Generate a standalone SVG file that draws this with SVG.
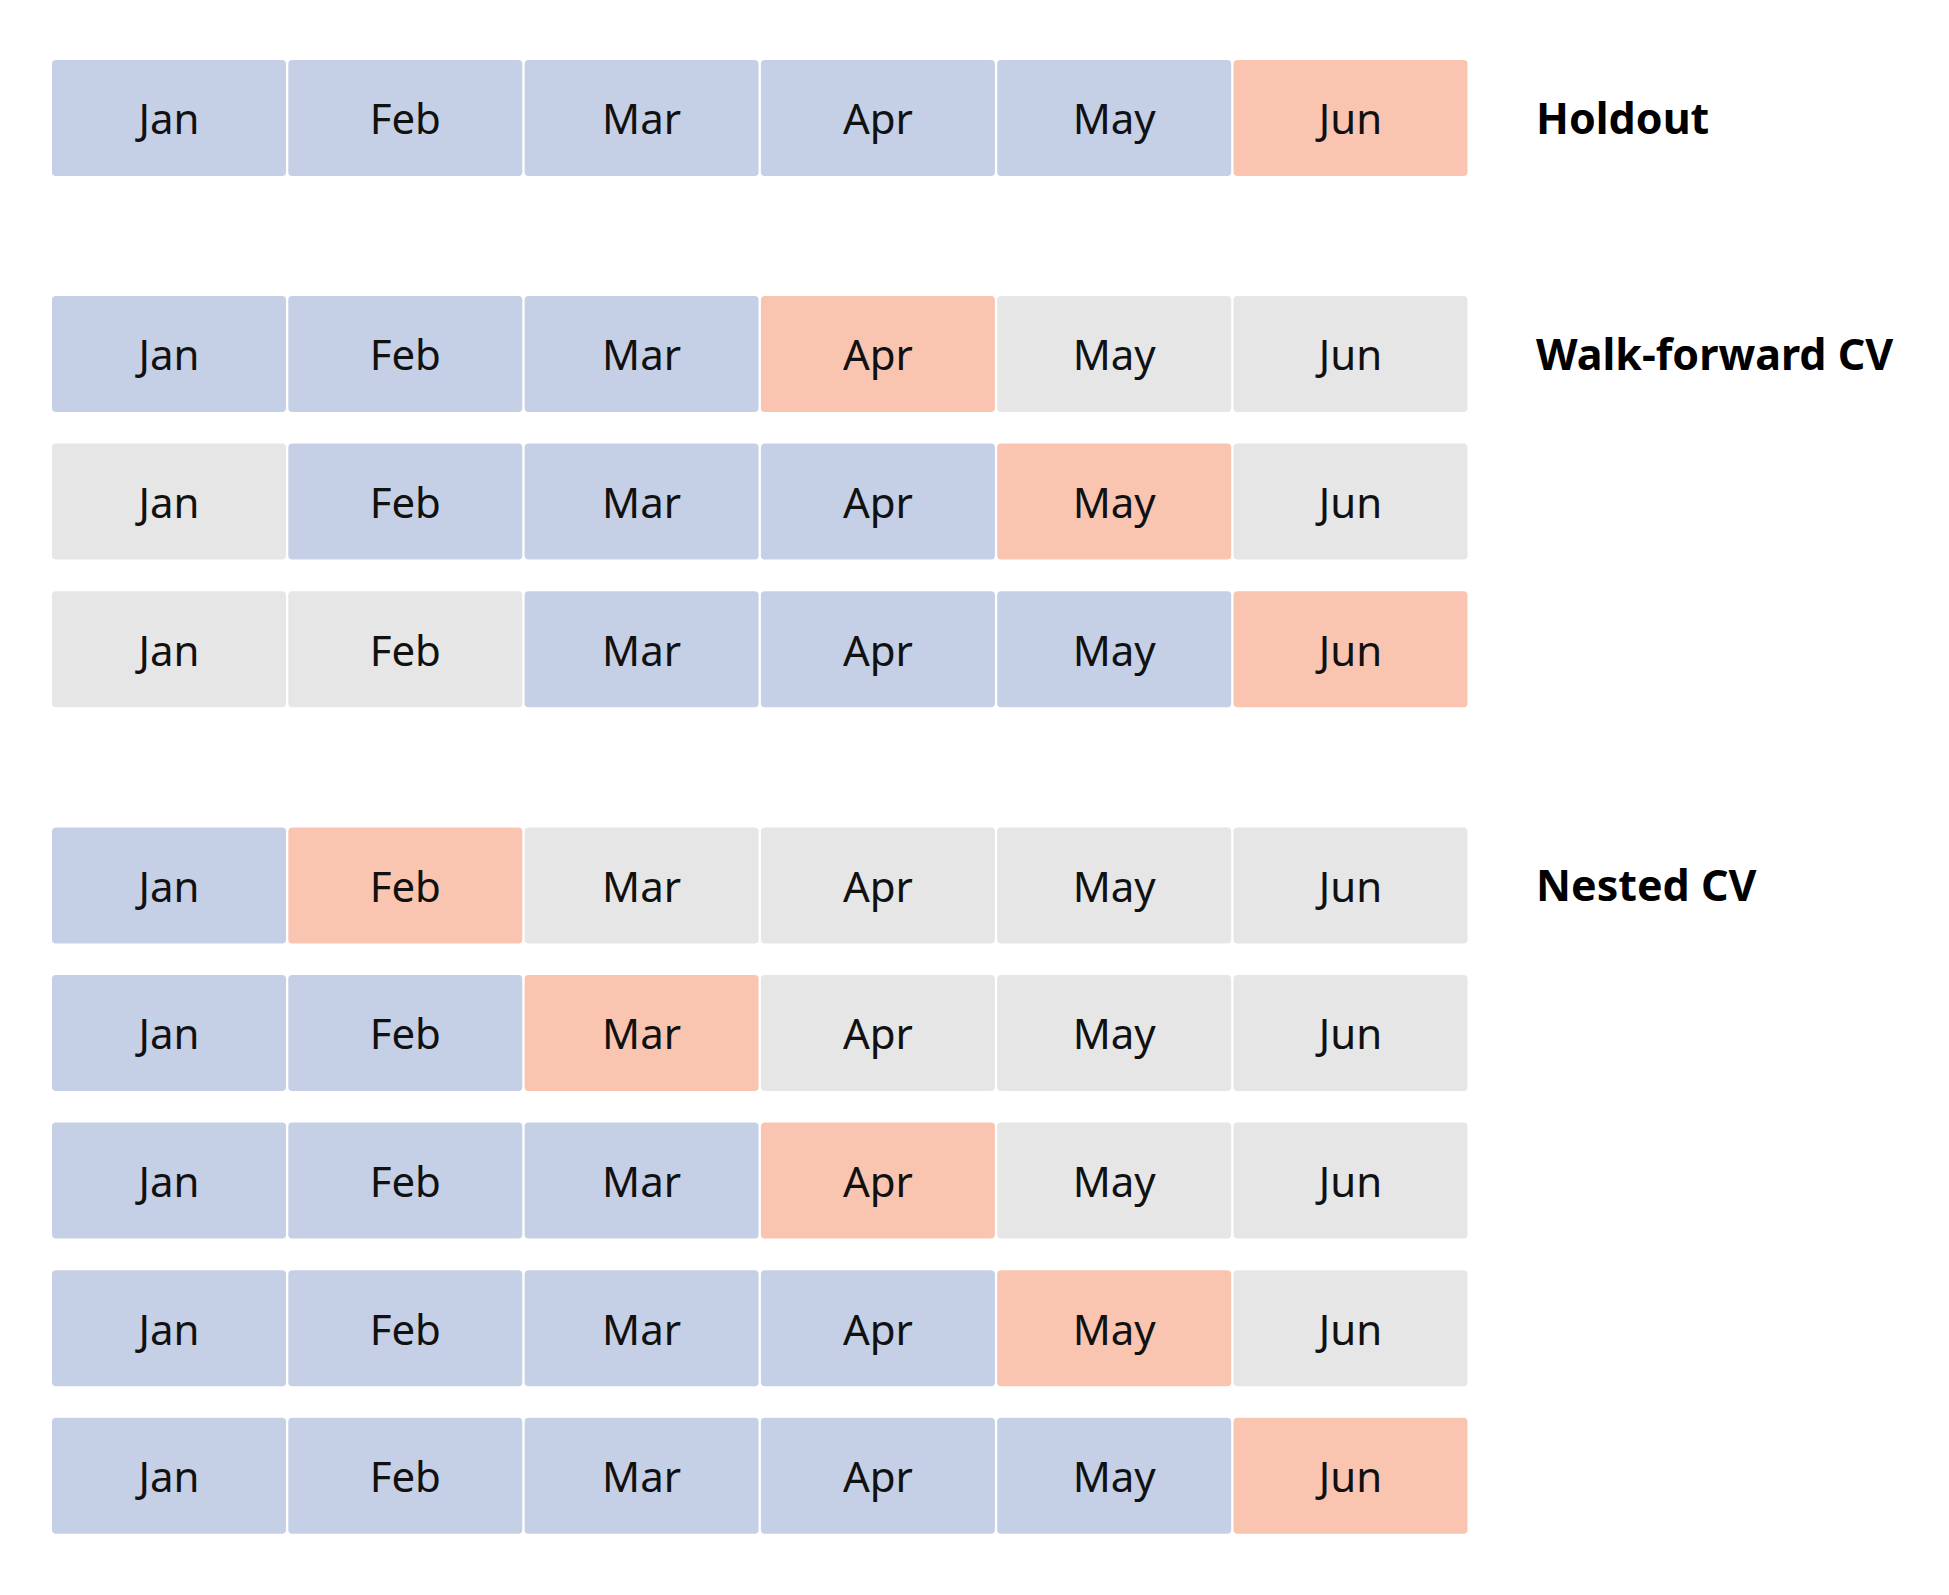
<svg xmlns="http://www.w3.org/2000/svg" width="1949" height="1595" viewBox="0 0 1949 1595">
  <style>
    .cell { stroke: none; }
    .train { fill: #c5cfe6; }
    .test { fill: #f9c5b1; }
    .unused { fill: #e6e6e6; }
    .month { font-family: "Noto Sans", "Open Sans", sans-serif; font-size: 42px; fill: #111; text-anchor: middle; }
    .label { font-family: "Noto Sans", "Open Sans", sans-serif; font-size: 43px; font-weight: bold; fill: #000; }
  </style>
  <rect width="1949" height="1595" fill="#ffffff"/>

  <!-- Holdout -->
  <g id="holdout-row">
    <g id="r0-jan"><rect class="cell train" x="52" y="60" width="234" height="116" rx="4"/><text class="month" x="169" y="134.3">Jan</text></g>
    <g id="r0-feb"><rect class="cell train" x="288.3" y="60" width="234" height="116" rx="4"/><text class="month" x="405.3" y="134.3">Feb</text></g>
    <g id="r0-mar"><rect class="cell train" x="524.6" y="60" width="234" height="116" rx="4"/><text class="month" x="641.6" y="134.3">Mar</text></g>
    <g id="r0-apr"><rect class="cell train" x="760.9" y="60" width="234" height="116" rx="4"/><text class="month" x="877.9" y="134.3">Apr</text></g>
    <g id="r0-may"><rect class="cell train" x="997.2" y="60" width="234" height="116" rx="4"/><text class="month" x="1114.2" y="134.3">May</text></g>
    <g id="r0-jun"><rect class="cell test" x="1233.5" y="60" width="234" height="116" rx="4"/><text class="month" x="1350.5" y="134.3">Jun</text></g>
  </g>
  <text id="label-holdout" class="label" x="1536" y="134">Holdout</text>

  <!-- Walk-forward CV -->
  <g id="wf-row1">
    <g id="r1-jan"><rect class="cell train" x="52" y="296" width="234" height="116" rx="4"/><text class="month" x="169" y="370.3">Jan</text></g>
    <g id="r1-feb"><rect class="cell train" x="288.3" y="296" width="234" height="116" rx="4"/><text class="month" x="405.3" y="370.3">Feb</text></g>
    <g id="r1-mar"><rect class="cell train" x="524.6" y="296" width="234" height="116" rx="4"/><text class="month" x="641.6" y="370.3">Mar</text></g>
    <g id="r1-apr"><rect class="cell test" x="760.9" y="296" width="234" height="116" rx="4"/><text class="month" x="877.9" y="370.3">Apr</text></g>
    <g id="r1-may"><rect class="cell unused" x="997.2" y="296" width="234" height="116" rx="4"/><text class="month" x="1114.2" y="370.3">May</text></g>
    <g id="r1-jun"><rect class="cell unused" x="1233.5" y="296" width="234" height="116" rx="4"/><text class="month" x="1350.5" y="370.3">Jun</text></g>
  </g>
  <text id="label-walkforward" class="label" x="1536" y="369.5">Walk-forward CV</text>

  <g id="wf-row2">
    <g id="r2-jan"><rect class="cell unused" x="52" y="443.6" width="234" height="116" rx="4"/><text class="month" x="169" y="517.9">Jan</text></g>
    <g id="r2-feb"><rect class="cell train" x="288.3" y="443.6" width="234" height="116" rx="4"/><text class="month" x="405.3" y="517.9">Feb</text></g>
    <g id="r2-mar"><rect class="cell train" x="524.6" y="443.6" width="234" height="116" rx="4"/><text class="month" x="641.6" y="517.9">Mar</text></g>
    <g id="r2-apr"><rect class="cell train" x="760.9" y="443.6" width="234" height="116" rx="4"/><text class="month" x="877.9" y="517.9">Apr</text></g>
    <g id="r2-may"><rect class="cell test" x="997.2" y="443.6" width="234" height="116" rx="4"/><text class="month" x="1114.2" y="517.9">May</text></g>
    <g id="r2-jun"><rect class="cell unused" x="1233.5" y="443.6" width="234" height="116" rx="4"/><text class="month" x="1350.5" y="517.9">Jun</text></g>
  </g>

  <g id="wf-row3">
    <g id="r3-jan"><rect class="cell unused" x="52" y="591.2" width="234" height="116" rx="4"/><text class="month" x="169" y="665.5">Jan</text></g>
    <g id="r3-feb"><rect class="cell unused" x="288.3" y="591.2" width="234" height="116" rx="4"/><text class="month" x="405.3" y="665.5">Feb</text></g>
    <g id="r3-mar"><rect class="cell train" x="524.6" y="591.2" width="234" height="116" rx="4"/><text class="month" x="641.6" y="665.5">Mar</text></g>
    <g id="r3-apr"><rect class="cell train" x="760.9" y="591.2" width="234" height="116" rx="4"/><text class="month" x="877.9" y="665.5">Apr</text></g>
    <g id="r3-may"><rect class="cell train" x="997.2" y="591.2" width="234" height="116" rx="4"/><text class="month" x="1114.2" y="665.5">May</text></g>
    <g id="r3-jun"><rect class="cell test" x="1233.5" y="591.2" width="234" height="116" rx="4"/><text class="month" x="1350.5" y="665.5">Jun</text></g>
  </g>

  <!-- Nested CV -->
  <g id="nested-row1">
    <g id="r4-jan"><rect class="cell train" x="52" y="827.4" width="234" height="116" rx="4"/><text class="month" x="169" y="901.7">Jan</text></g>
    <g id="r4-feb"><rect class="cell test" x="288.3" y="827.4" width="234" height="116" rx="4"/><text class="month" x="405.3" y="901.7">Feb</text></g>
    <g id="r4-mar"><rect class="cell unused" x="524.6" y="827.4" width="234" height="116" rx="4"/><text class="month" x="641.6" y="901.7">Mar</text></g>
    <g id="r4-apr"><rect class="cell unused" x="760.9" y="827.4" width="234" height="116" rx="4"/><text class="month" x="877.9" y="901.7">Apr</text></g>
    <g id="r4-may"><rect class="cell unused" x="997.2" y="827.4" width="234" height="116" rx="4"/><text class="month" x="1114.2" y="901.7">May</text></g>
    <g id="r4-jun"><rect class="cell unused" x="1233.5" y="827.4" width="234" height="116" rx="4"/><text class="month" x="1350.5" y="901.7">Jun</text></g>
  </g>
  <text id="label-nested" class="label" x="1536" y="900.9">Nested CV</text>

  <g id="nested-row2">
    <g id="r5-jan"><rect class="cell train" x="52" y="975" width="234" height="116" rx="4"/><text class="month" x="169" y="1049.3">Jan</text></g>
    <g id="r5-feb"><rect class="cell train" x="288.3" y="975" width="234" height="116" rx="4"/><text class="month" x="405.3" y="1049.3">Feb</text></g>
    <g id="r5-mar"><rect class="cell test" x="524.6" y="975" width="234" height="116" rx="4"/><text class="month" x="641.6" y="1049.3">Mar</text></g>
    <g id="r5-apr"><rect class="cell unused" x="760.9" y="975" width="234" height="116" rx="4"/><text class="month" x="877.9" y="1049.3">Apr</text></g>
    <g id="r5-may"><rect class="cell unused" x="997.2" y="975" width="234" height="116" rx="4"/><text class="month" x="1114.2" y="1049.3">May</text></g>
    <g id="r5-jun"><rect class="cell unused" x="1233.5" y="975" width="234" height="116" rx="4"/><text class="month" x="1350.5" y="1049.3">Jun</text></g>
  </g>

  <g id="nested-row3">
    <g id="r6-jan"><rect class="cell train" x="52" y="1122.6" width="234" height="116" rx="4"/><text class="month" x="169" y="1196.9">Jan</text></g>
    <g id="r6-feb"><rect class="cell train" x="288.3" y="1122.6" width="234" height="116" rx="4"/><text class="month" x="405.3" y="1196.9">Feb</text></g>
    <g id="r6-mar"><rect class="cell train" x="524.6" y="1122.6" width="234" height="116" rx="4"/><text class="month" x="641.6" y="1196.9">Mar</text></g>
    <g id="r6-apr"><rect class="cell test" x="760.9" y="1122.6" width="234" height="116" rx="4"/><text class="month" x="877.9" y="1196.9">Apr</text></g>
    <g id="r6-may"><rect class="cell unused" x="997.2" y="1122.6" width="234" height="116" rx="4"/><text class="month" x="1114.2" y="1196.9">May</text></g>
    <g id="r6-jun"><rect class="cell unused" x="1233.5" y="1122.6" width="234" height="116" rx="4"/><text class="month" x="1350.5" y="1196.9">Jun</text></g>
  </g>

  <g id="nested-row4">
    <g id="r7-jan"><rect class="cell train" x="52" y="1270.2" width="234" height="116" rx="4"/><text class="month" x="169" y="1344.5">Jan</text></g>
    <g id="r7-feb"><rect class="cell train" x="288.3" y="1270.2" width="234" height="116" rx="4"/><text class="month" x="405.3" y="1344.5">Feb</text></g>
    <g id="r7-mar"><rect class="cell train" x="524.6" y="1270.2" width="234" height="116" rx="4"/><text class="month" x="641.6" y="1344.5">Mar</text></g>
    <g id="r7-apr"><rect class="cell train" x="760.9" y="1270.2" width="234" height="116" rx="4"/><text class="month" x="877.9" y="1344.5">Apr</text></g>
    <g id="r7-may"><rect class="cell test" x="997.2" y="1270.2" width="234" height="116" rx="4"/><text class="month" x="1114.2" y="1344.5">May</text></g>
    <g id="r7-jun"><rect class="cell unused" x="1233.5" y="1270.2" width="234" height="116" rx="4"/><text class="month" x="1350.5" y="1344.5">Jun</text></g>
  </g>

  <g id="nested-row5">
    <g id="r8-jan"><rect class="cell train" x="52" y="1417.8" width="234" height="116" rx="4"/><text class="month" x="169" y="1492.1">Jan</text></g>
    <g id="r8-feb"><rect class="cell train" x="288.3" y="1417.8" width="234" height="116" rx="4"/><text class="month" x="405.3" y="1492.1">Feb</text></g>
    <g id="r8-mar"><rect class="cell train" x="524.6" y="1417.8" width="234" height="116" rx="4"/><text class="month" x="641.6" y="1492.1">Mar</text></g>
    <g id="r8-apr"><rect class="cell train" x="760.9" y="1417.8" width="234" height="116" rx="4"/><text class="month" x="877.9" y="1492.1">Apr</text></g>
    <g id="r8-may"><rect class="cell train" x="997.2" y="1417.8" width="234" height="116" rx="4"/><text class="month" x="1114.2" y="1492.1">May</text></g>
    <g id="r8-jun"><rect class="cell test" x="1233.5" y="1417.8" width="234" height="116" rx="4"/><text class="month" x="1350.5" y="1492.1">Jun</text></g>
  </g>
</svg>
